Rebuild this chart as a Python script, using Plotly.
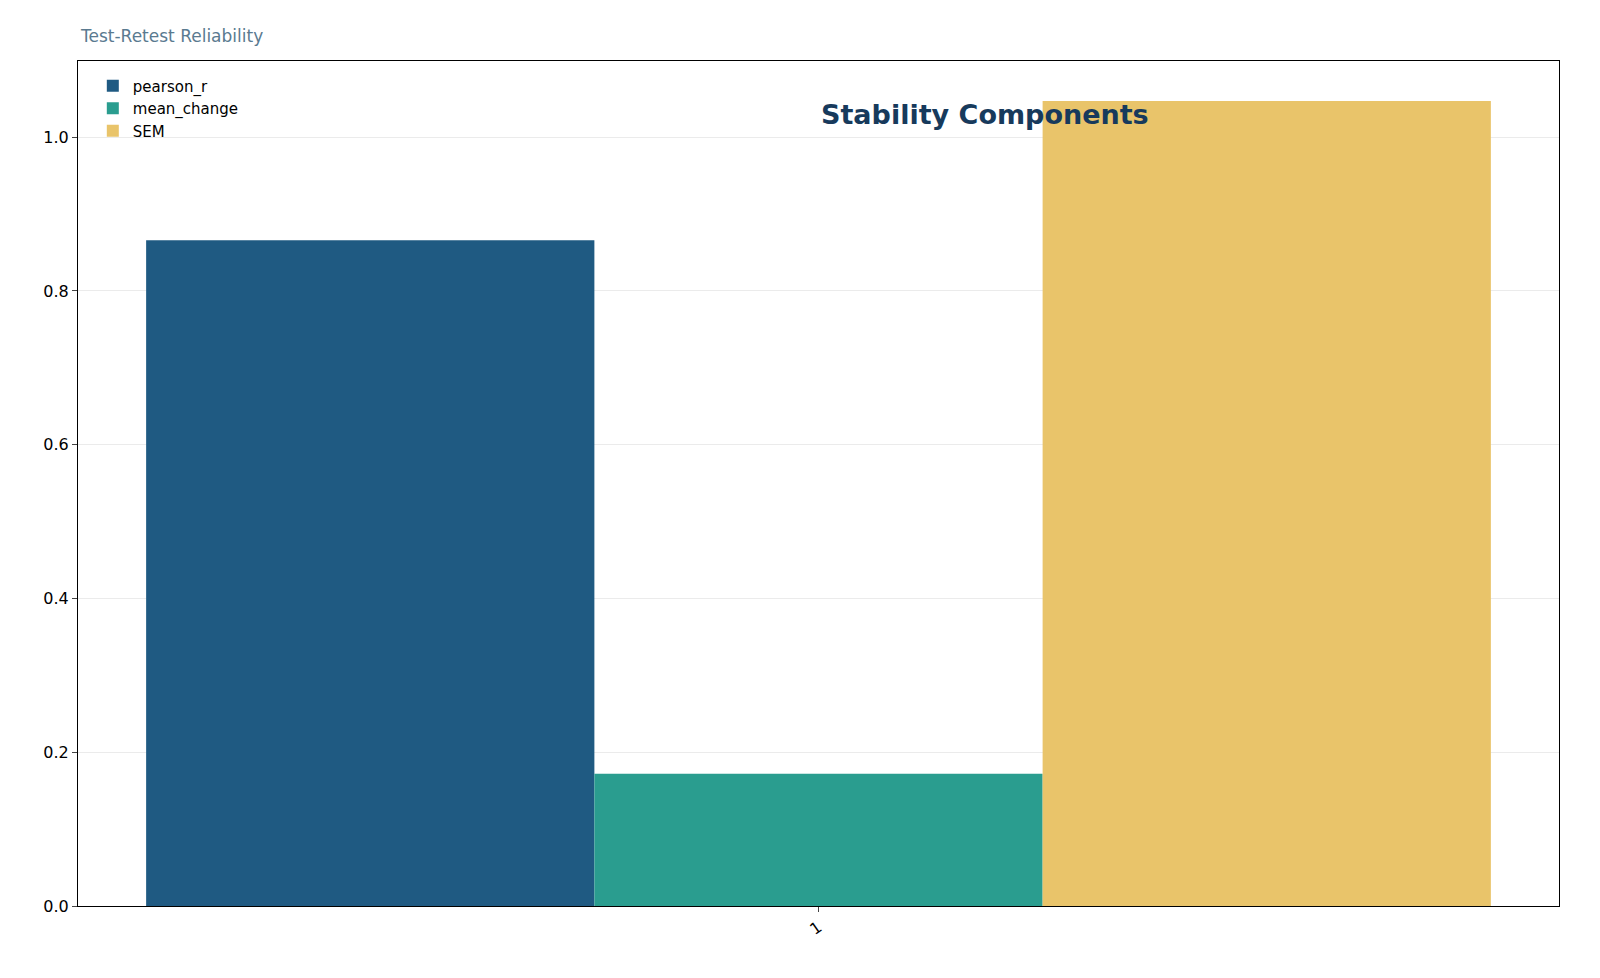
import plotly.graph_objects as go

categories = ["1"]
series_names = ["pearson_r", "mean_change", "SEM"]
series_values = [[0.866], [0.172], [1.047]]
colors = ["#1f5a82", "#2a9d8f", "#e9c46a"]

fig = go.Figure()
for name, vals, c in zip(series_names, series_values, colors):
    fig.add_bar(x=categories, y=vals, name=name, marker_color=c, marker_line_width=0)

fig.update_layout(
    width=1600, height=978, barmode="group", bargap=0.092, bargroupgap=0,
    plot_bgcolor="white", paper_bgcolor="white",
    margin=dict(l=70, r=49, t=53, b=80),
    font=dict(family="DejaVu Sans", size=16, color="black"),
    legend=dict(x=0.01, y=0.99, xanchor="left", yanchor="top", bgcolor="rgba(0,0,0,0)",
                font=dict(size=15)),
    xaxis=dict(type="category", range=[-0.5, 0.5], showline=True, linecolor="black", mirror=True,
               ticks="outside", tickangle=-35, showgrid=False),
    yaxis=dict(range=[0, 1.099], dtick=0.2, tickformat=".1f", showline=True, linecolor="black",
               mirror=True, ticks="outside", gridcolor="#ebebeb", zeroline=False),
    annotations=[
        dict(text="Test-Retest Reliability", x=70, y=28, xref="paper", yref="paper", showarrow=False,
             font=dict(size=17, color="#5a7a90"), xanchor="left", yanchor="middle"),
        dict(text="<b>Stability Components</b>", x=70, y=28, showarrow=False,
             font=dict(size=27, color="#173a5c"), xanchor="left", yanchor="middle"),
    ],
)
# convert pixel positions to paper coords
pw, ph = 1600 - 70 - 49, 978 - 53 - 80
for a in fig.layout.annotations:
    a.x = 0
    a.y = 1 + (53 - 28) / ph
fig.write_html("out.html")
